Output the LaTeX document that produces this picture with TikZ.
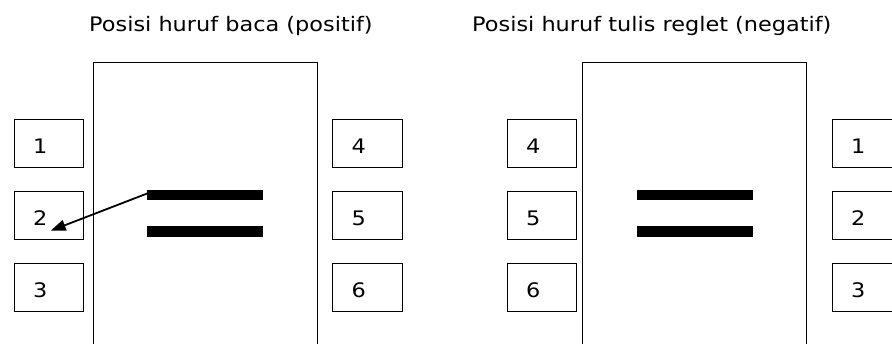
\documentclass[tikz,border=0pt]{standalone}
\usepackage{fontspec}
\setmainfont{DejaVu Sans}[FakeStretch=1.12]
\usetikzlibrary{arrows.meta}
\begin{document}
\begin{tikzpicture}[x=1pt,y=-1pt,
  cell/.style={draw, line width=1pt, minimum height=48pt, text width=31.5pt,
    inner xsep=19pt, inner ysep=0pt, align=left, text height=20pt, text depth=0pt,
    font=\fontsize{20}{24}\selectfont, anchor=north west},
  frame/.style={draw, line width=1.2pt, minimum width=224pt, minimum height=300pt,
    inner sep=0pt, anchor=north west},
  bar/.style={fill=black, minimum width=116pt, minimum height=10.7pt,
    inner sep=0pt, anchor=north west},
  title/.style={anchor=base west, inner sep=0pt, font=\fontsize{20}{24}\selectfont},
  arr/.style={line width=1.8pt, -{Triangle[length=15pt,width=11pt]}}]
\useasboundingbox (0,0) rectangle (892,343);

% titles
\node[title] (t1) at (89,31) {Posisi huruf baca (positif)};
\node[title] (t2) at (472,31) {Posisi huruf tulis reglet (negatif)};

% frames (open at the bottom, beyond the page)
\node[frame] (f1) at (93,62) {};
\node[frame] (f2) at (581.5,62) {};

% left figure cells
\node[cell] (l1) at (13.7,119) {1};
\node[cell] (l2) at (13.7,191) {2};
\node[cell] (l3) at (13.7,263) {3};
\node[cell] (l4) at (332,119) {4};
\node[cell] (l5) at (332,191) {5};
\node[cell] (l6) at (332,263) {6};

% right figure cells
\node[cell] (r4) at (506.7,119) {4};
\node[cell] (r5) at (506.7,191) {5};
\node[cell] (r6) at (506.7,263) {6};
\node[cell] (r1) at (831.7,119) {1};
\node[cell] (r2) at (831.7,191) {2};
\node[cell] (r3) at (831.7,263) {3};

% bars
\node[bar] (b1) at (147,189.3) {};
\node[bar] (b2) at (147,226) {};
\node[bar] (b3) at (636.7,189.3) {};
\node[bar] (b4) at (636.7,226) {};

% arrow
\coordinate (tip) at (50.7,230.7);
\draw[arr] ([xshift=2pt,yshift=-3.5pt]b1.north west) -- (tip);
\end{tikzpicture}
\end{document}
